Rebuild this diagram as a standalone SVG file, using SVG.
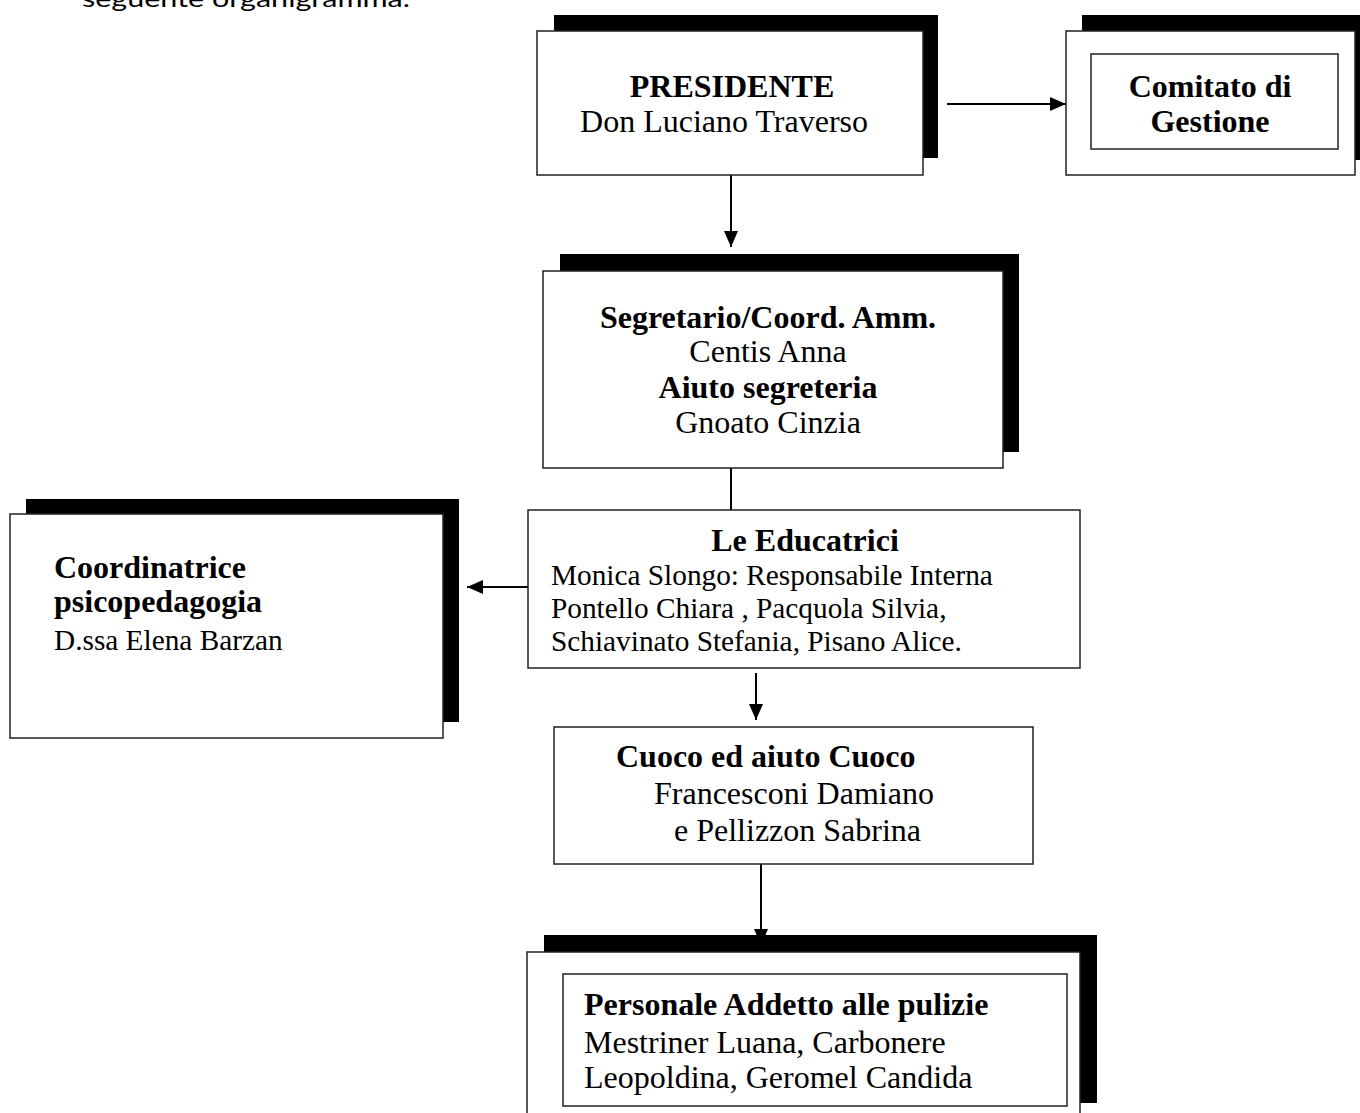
<svg xmlns="http://www.w3.org/2000/svg" width="1360" height="1113" viewBox="0 0 1360 1113">
<style>
  .shadow { fill: #000; stroke: none; }
  .box { fill: #fff; stroke: #222; stroke-width: 1.5; }
  .t { font-family: "Liberation Serif", "Times New Roman", serif; font-size: 32px; fill: #000; }
  .s { font-size: 29.3px; }
  .b { font-weight: bold; }
  .c { text-anchor: middle; }
  .conn { stroke: #000; stroke-width: 2; fill: none; }
  .intro { font-family: "Comic Sans MS", "Lato", sans-serif; font-size: 24px; fill: #000; }
</style>
<defs>
  <marker id="arr" viewBox="0 0 16 14" refX="16" refY="7" markerWidth="16" markerHeight="14" markerUnits="userSpaceOnUse" orient="auto">
    <path d="M0,0 L16,7 L0,14 z" fill="#000"/>
  </marker>
</defs>
<rect width="1360" height="1113" fill="#fff"/>
<text class="intro" x="82" y="7" textLength="328" lengthAdjust="spacingAndGlyphs">seguente organigramma.</text>

<g id="connectors">
  <line class="conn" x1="947" y1="104" x2="1066" y2="104" marker-end="url(#arr)"/>
  <line class="conn" x1="731" y1="175" x2="731" y2="247" marker-end="url(#arr)"/>
  <line class="conn" x1="731" y1="453" x2="731" y2="510"/>
  <line class="conn" x1="528" y1="587" x2="467" y2="587" marker-end="url(#arr)"/>
  <line class="conn" x1="756" y1="673" x2="756" y2="720" marker-end="url(#arr)"/>
  <line class="conn" x1="761" y1="864" x2="761" y2="945" marker-end="url(#arr)"/>
</g>

<g id="presidente">
  <rect class="shadow" x="554" y="15" width="384" height="143"/>
  <rect class="box" x="537" y="31" width="386" height="144"/>
  <text class="t b c" x="732" y="97">PRESIDENTE</text>
  <text class="t c" x="724" y="132">Don Luciano Traverso</text>
</g>

<g id="comitato">
  <rect class="shadow" x="1082" y="15" width="290" height="145"/>
  <rect class="box" x="1066" y="31" width="289" height="144"/>
  <rect class="box" x="1091" y="54" width="247" height="95"/>
  <text class="t b c" x="1210" y="97">Comitato di</text>
  <text class="t b c" x="1210" y="132">Gestione</text>
</g>

<g id="segretario">
  <rect class="shadow" x="560" y="254" width="459" height="198"/>
  <rect class="box" x="543" y="271" width="460" height="197"/>
  <text class="t b c" x="768" y="328">Segretario/Coord. Amm.</text>
  <text class="t c" x="768" y="362">Centis Anna</text>
  <text class="t b c" x="768" y="398">Aiuto segreteria</text>
  <text class="t c" x="768" y="433">Gnoato Cinzia</text>
</g>

<g id="coordinatrice">
  <rect class="shadow" x="26" y="499" width="433" height="223"/>
  <rect class="box" x="10" y="514" width="433" height="224"/>
  <text class="t b" x="54" y="578">Coordinatrice</text>
  <text class="t b" x="54" y="612">psicopedagogia</text>
  <text class="t s" x="54" y="650">D.ssa Elena Barzan</text>
</g>

<g id="educatrici">
  <rect class="box" x="528" y="510" width="552" height="158"/>
  <text class="t b c" x="805" y="551">Le Educatrici</text>
  <text class="t s" x="551" y="585">Monica Slongo: Responsabile Interna</text>
  <text class="t s" x="551" y="618">Pontello Chiara , Pacquola Silvia,</text>
  <text class="t s" x="551" y="651">Schiavinato Stefania, Pisano Alice.</text>
</g>

<g id="cuoco">
  <rect class="box" x="554" y="727" width="479" height="137"/>
  <text class="t b" x="616" y="767">Cuoco ed aiuto Cuoco</text>
  <text class="t" x="654" y="804">Francesconi Damiano</text>
  <text class="t" x="674" y="841">e Pellizzon Sabrina</text>
</g>

<g id="pulizie">
  <rect class="shadow" x="544" y="935" width="553" height="168"/>
  <rect class="box" x="527" y="952" width="553" height="175"/>
  <rect class="box" x="563" y="974" width="504" height="132"/>
  <text class="t b" x="584" y="1015">Personale Addetto alle pulizie</text>
  <text class="t" x="584" y="1053">Mestriner Luana, Carbonere</text>
  <text class="t" x="584" y="1088">Leopoldina, Geromel Candida</text>
</g>
</svg>
